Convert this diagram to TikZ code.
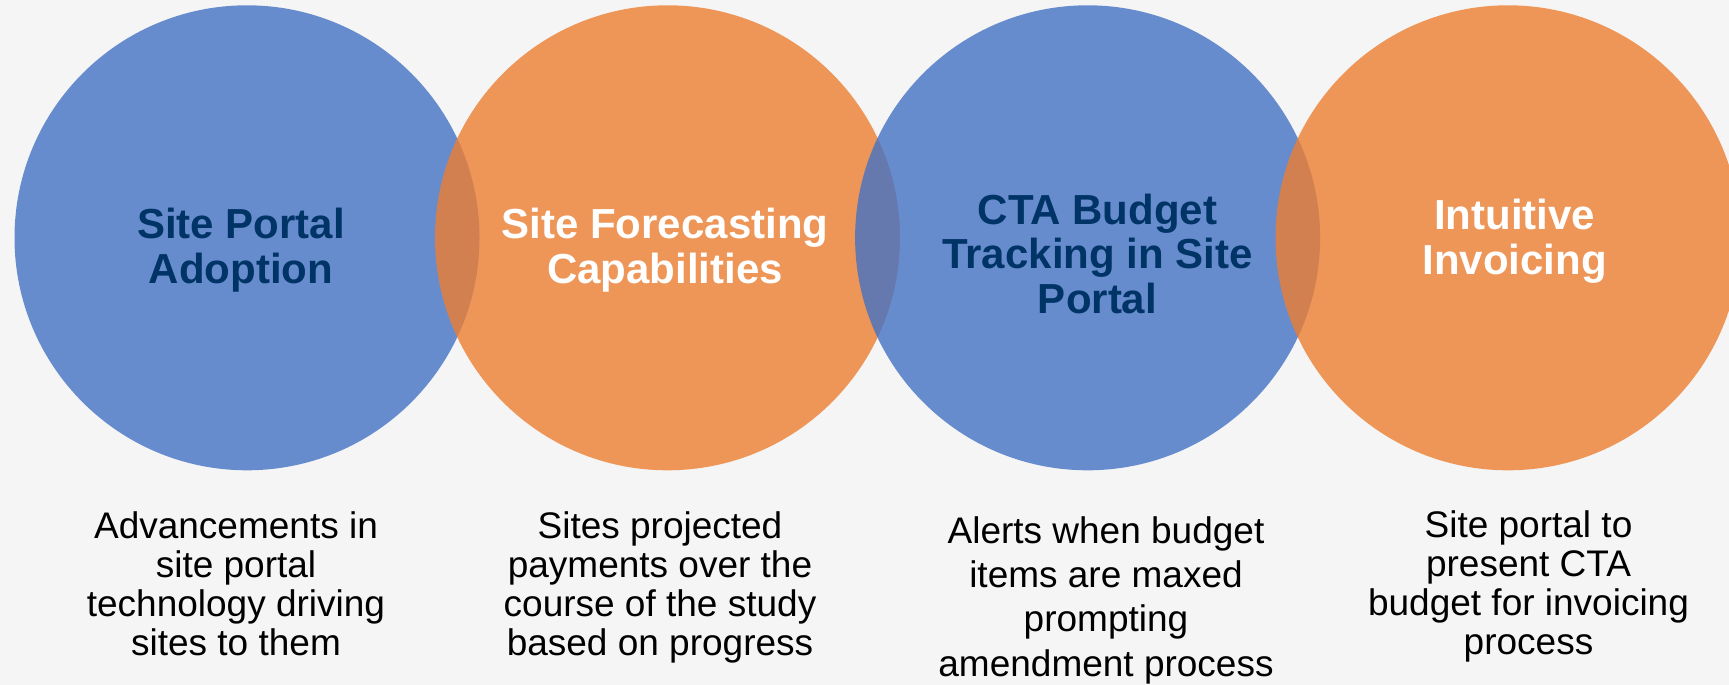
\documentclass[tikz,border=0pt]{standalone}
\usepackage{fontspec}
\setmainfont{Liberation Sans}
\definecolor{bgc}{HTML}{F5F5F5}
\definecolor{cblue}{HTML}{4472C4}
\definecolor{corange}{HTML}{ED7D31}
\definecolor{navy}{HTML}{003366}
\tikzset{
  disc/.style={circle, inner sep=0pt, minimum size=232.5pt, draw=none, fill opacity=0.8},
  bluedisc/.style={disc, fill=cblue},
  orangedisc/.style={disc, fill=corange},
  title/.style={anchor=base, align=center, inner sep=0pt, font=\bfseries\fontsize{21}{22.25}\selectfont},
  desc/.style={anchor=base, align=center, inner sep=0pt, text=black, font=\fontsize{18.5}{19.45}\selectfont},
  descwide/.style={desc, font=\fontsize{18.5}{22.15}\selectfont}
}
\begin{document}
\begin{tikzpicture}[x=0.5pt, y=-0.5pt]
\useasboundingbox (0,0) rectangle (1729,685);
\fill[bgc] (0,0) rectangle (1729,685);
\begin{scope}
\clip (0,0) rectangle (1729,685);
\node[bluedisc]   (c1) at (247,237.8) {};
\node[orangedisc] (c2) at (667.5,237.8) {};
\node[bluedisc]   (c3) at (1087.6,237.8) {};
\node[orangedisc] (c4) at (1508,237.8) {};
\end{scope}
% base anchor = baseline of the last line
\node[title, text=navy]  (t1) at (241,283)    {Site Portal\\Adoption};
\node[title, text=white] (t2) at (665,283)    {Site Forecasting\\Capabilities};
\node[title, text=navy]  (t3) at (1097.5,313) {CTA Budget\\Tracking in Site\\Portal};
\node[title, text=white] (t4) at (1514.5,274) {Intuitive\\Invoicing};
\node[desc]     (d1) at (236,655)    {Advancements in\\site portal\\technology driving\\sites to them};
\node[desc]     (d2) at (660,655)    {Sites projected\\payments over the\\course of the study\\based on progress};
\node[descwide] (d3) at (1106,676)   {Alerts when budget\\items are maxed\\prompting\\amendment process};
\node[desc]     (d4) at (1528.5,654) {Site portal to\\present CTA\\budget for invoicing\\process};
\end{tikzpicture}
\end{document}
